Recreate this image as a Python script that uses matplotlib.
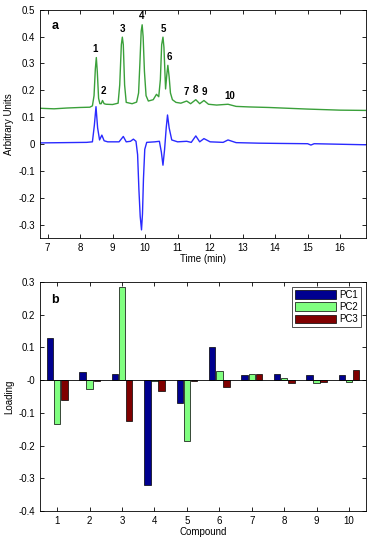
import matplotlib
matplotlib.use("Agg")
import matplotlib.pyplot as plt
from matplotlib.ticker import FuncFormatter
import numpy as np

plt.rcParams['font.family'] = ['Liberation Sans', 'DejaVu Sans']
plt.rcParams['axes.unicode_minus'] = False

# chromatogram (green): time [min], signal
t_green = [6.77, 7.2, 7.6, 8.0, 8.3, 8.38, 8.43, 8.47, 8.50, 8.53, 8.57, 8.61, 8.65, 8.69, 8.74,
           8.80, 9.0, 9.17, 9.22, 9.27, 9.30, 9.33, 9.37, 9.42, 9.6, 9.74, 9.80, 9.84, 9.88,
           9.91, 9.94, 9.98, 10.03, 10.1, 10.25, 10.35, 10.42, 10.47, 10.51, 10.55, 10.58,
           10.63, 10.67, 10.70, 10.74, 10.78, 10.84, 10.95, 11.1, 11.28, 11.4, 11.56, 11.68,
           11.81, 11.95, 12.2, 12.55, 12.8, 13.2, 13.8, 14.4, 15.0, 15.5, 16.0, 16.8]
y_green = [0.133, 0.131, 0.134, 0.136, 0.137, 0.142, 0.18, 0.28, 0.322, 0.27, 0.17, 0.150, 0.150,
           0.162, 0.150, 0.148, 0.147, 0.152, 0.22, 0.37, 0.398, 0.37, 0.22, 0.155, 0.150, 0.156,
           0.19, 0.30, 0.42, 0.444, 0.40, 0.27, 0.18, 0.160, 0.165, 0.185, 0.176, 0.24, 0.37,
           0.398, 0.36, 0.205, 0.26, 0.293, 0.25, 0.19, 0.165, 0.155, 0.152, 0.160, 0.150, 0.165,
           0.150, 0.162, 0.148, 0.145, 0.148, 0.140, 0.138, 0.136, 0.133, 0.130, 0.128, 0.126,
           0.125]

# difference trace (blue)
t_blue = [6.77, 7.5, 8.2, 8.38, 8.44, 8.49, 8.54, 8.60, 8.67, 8.74, 8.85, 9.2, 9.33, 9.42, 9.55,
          9.64, 9.72, 9.77, 9.81, 9.85, 9.89, 9.92, 9.95, 9.99, 10.05, 10.3, 10.44, 10.50, 10.55,
          10.60, 10.65, 10.69, 10.74, 10.82, 11.0, 11.28, 11.42, 11.56, 11.68, 11.81, 12.0,
          12.4, 12.55, 12.8, 13.5, 14.2, 15.0, 15.1, 15.2, 16.0, 16.8]
y_blue = [0.004, 0.005, 0.006, 0.008, 0.07, 0.139, 0.06, 0.015, 0.033, 0.012, 0.008, 0.008,
          0.028, 0.008, 0.010, 0.018, 0.010, -0.04, -0.17, -0.27, -0.32, -0.26, -0.13, -0.02,
          0.006, 0.008, 0.010, -0.03, -0.079, -0.02, 0.06, 0.108, 0.06, 0.015, 0.008, 0.010,
          0.006, 0.030, 0.008, 0.020, 0.008, 0.006, 0.015, 0.005, 0.003, 0.002, 0.001, -0.004,
          0.001, -0.001, -0.003]

# peak labels
peak_names = ['1', '2', '3', '4', '5', '6', '7', '8', '9', '10']
peak_t = [8.46, 8.72, 9.30, 9.89, 10.55, 10.74, 11.28, 11.56, 11.81, 12.59]
peak_y = [0.353, 0.199, 0.43, 0.478, 0.43, 0.325, 0.194, 0.200, 0.194, 0.180]

# loadings
compounds = [1, 2, 3, 4, 5, 6, 7, 8, 9, 10]
pc1 = [0.13, 0.025, 0.02, -0.32, -0.07, 0.10, 0.017, 0.02, 0.017, 0.015]
pc2 = [-0.133, -0.027, 0.285, -0.002, -0.185, 0.028, 0.02, 0.007, -0.01, -0.005]
pc3 = [-0.06, -0.004, -0.125, -0.034, -0.003, -0.02, 0.02, -0.01, -0.007, 0.03]

fmt = FuncFormatter(lambda v, p: '%g' % round(v, 3))

fig = plt.figure(figsize=(3.71, 5.42), dpi=100)

ax1 = fig.add_axes([0.108, 0.561, 0.879, 0.421])
ax1.plot(t_green, y_green, color='#3aa03a', lw=1.0)
ax1.plot(t_blue, y_blue, color='#2a2aff', lw=1.0)
for name, tx, ty in zip(peak_names, peak_t, peak_y):
    ax1.text(tx, ty, name, ha='center', va='center', fontsize=7, fontweight='bold')
ax1.text(7.23, 0.438, 'a', ha='center', va='center', fontsize=9, fontweight='bold')
ax1.set_xlim(6.77, 16.8)
ax1.set_ylim(-0.35, 0.5)
ax1.set_xticks(range(7, 17))
ax1.set_yticks(np.arange(-0.3, 0.51, 0.1))
ax1.yaxis.set_major_formatter(fmt)
ax1.set_xlabel('Time (min)', fontsize=7, labelpad=1)
ax1.set_ylabel('Arbitrary Units', fontsize=7, labelpad=3)

ax2 = fig.add_axes([0.108, 0.057, 0.879, 0.423])
x = np.array(compounds)
w = 0.2
ax2.bar(x - 0.22, pc1, w, color='#00008f', edgecolor='black', lw=0.5, label='PC1')
ax2.bar(x, pc2, w, color='#80ff80', edgecolor='black', lw=0.5, label='PC2')
ax2.bar(x + 0.22, pc3, w, color='#800000', edgecolor='black', lw=0.5, label='PC3')
ax2.axhline(0, color='black', lw=0.6)
ax2.text(0.93, 0.246, 'b', ha='center', va='center', fontsize=9, fontweight='bold')
ax2.set_xlim(0.47, 10.53)
ax2.set_ylim(-0.4, 0.3)
ax2.set_xticks(compounds)
ax2.set_yticks(np.arange(-0.4, 0.31, 0.1))
ax2.yaxis.set_major_formatter(fmt)
ax2.set_xlabel('Compound', fontsize=7, labelpad=1)
ax2.set_ylabel('Loading', fontsize=7, labelpad=3)
leg = ax2.legend(loc='upper right', fontsize=7, frameon=True, fancybox=False,
                 edgecolor='black', handlelength=4.2, handleheight=1.0,
                 borderpad=0.3, labelspacing=0.25, handletextpad=0.4)
leg.get_frame().set_linewidth(0.6)

for ax in (ax1, ax2):
    ax.tick_params(direction='in', top=True, right=True, labelsize=7, length=3, width=0.6)
    for s in ax.spines.values():
        s.set_linewidth(0.6)

fig.savefig('out.png', dpi=100)
